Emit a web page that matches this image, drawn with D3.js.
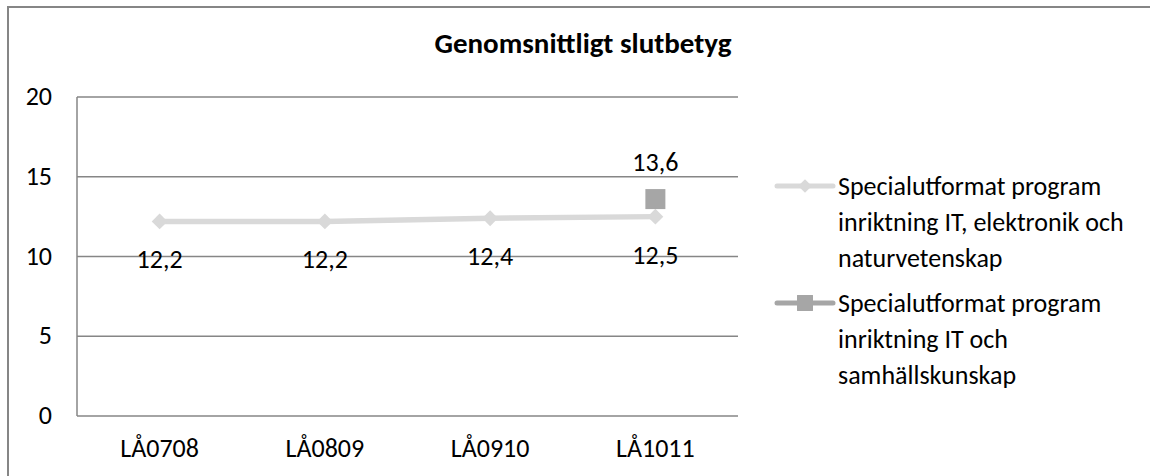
<!DOCTYPE html>
<html>
<head>
<meta charset="utf-8">
<script src="https://cdn.jsdelivr.net/npm/d3@7"></script>
<style>
  body { margin: 0; background: #fff; }
  svg { display: block; font-family: Carlito, Lato, "Open Sans", sans-serif; }
</style>
</head>
<body>
<svg width="1150" height="476"></svg>
<script>
// Chart data
var categories = ["LÅ0708", "LÅ0809", "LÅ0910", "LÅ1011"];
var seriesNames = [
  ["Specialutformat program", "inriktning IT, elektronik och", "naturvetenskap"],
  ["Specialutformat program", "inriktning IT och", "samhällskunskap"]
];
var itElektronik = [12.2, 12.2, 12.4, 12.5];
var itSamhalle = [null, null, null, 13.6];
var yTicks = [0, 5, 10, 15, 20];

var svg = d3.select("svg");

// outer chart border (runs off the page at right/bottom)
svg.append("rect")
    .attr("x", 8).attr("y", 7)
    .attr("width", 1160).attr("height", 480)
    .attr("fill", "none")
    .attr("stroke", "#868686")
    .attr("stroke-width", 2);

svg.append("text")
    .attr("x", 583).attr("y", 53)
    .attr("text-anchor", "middle")
    .style("font-size", "29px")
    .style("font-weight", "bold")
    .text("Genomsnittligt slutbetyg");

var x = d3.scaleBand().domain(categories).range([77, 738]);
var y = d3.scaleLinear().domain([0, 20]).range([416, 97]);

// gridlines
svg.append("g").selectAll("line")
  .data(yTicks)
  .enter().append("line")
    .attr("x1", 77).attr("x2", 738)
    .attr("y1", function(d) { return y(d); })
    .attr("y2", function(d) { return y(d); })
    .attr("stroke", "#868686")
    .attr("stroke-width", 1.5);

svg.append("line")
    .attr("x1", 77).attr("x2", 77)
    .attr("y1", y(0)).attr("y2", y(20))
    .attr("stroke", "#868686")
    .attr("stroke-width", 1.5);

// y tick labels
svg.append("g").selectAll("text")
  .data(yTicks)
  .enter().append("text")
    .attr("x", 52)
    .attr("y", function(d) { return y(d) + 8; })
    .attr("text-anchor", "end")
    .style("font-size", "26px")
    .text(function(d) { return d; });

// x labels
svg.append("g").selectAll("text")
  .data(categories)
  .enter().append("text")
    .attr("x", function(d) { return x(d) + x.bandwidth() / 2; })
    .attr("y", 457)
    .attr("text-anchor", "middle")
    .style("font-size", "26px")
    .text(function(d) { return d; });

var cx = function(d, i) { return x(categories[i]) + x.bandwidth() / 2; };
var fmt = function(v) { return String(v).replace(".", ","); };

// series 1: line + diamonds
var pts1 = itElektronik.map(function(v, i) { return [cx(null, i), y(v)]; });
svg.append("path")
    .attr("d", d3.line()(pts1))
    .attr("fill", "none")
    .attr("stroke", "#d9d9d9")
    .attr("stroke-width", 5.5);

svg.append("g").selectAll("path")
  .data(itElektronik)
  .enter().append("path")
    .attr("d", d3.symbol().type(d3.symbolDiamond2).size(160))
    .attr("transform", function(d, i) { return "translate(" + cx(d, i) + "," + y(d) + ")"; })
    .attr("fill", "#d9d9d9");

svg.append("g").selectAll("text")
  .data(itElektronik)
  .enter().append("text")
    .attr("x", cx)
    .attr("y", function(d) { return y(d) + 47; })
    .attr("text-anchor", "middle")
    .style("font-size", "26px")
    .text(fmt);

// series 2: single square
var s2 = itSamhalle.map(function(v, i) { return { v: v, i: i }; })
  .filter(function(d) { return d.v != null; });

svg.append("g").selectAll("rect")
  .data(s2)
  .enter().append("rect")
    .attr("x", function(d) { return cx(d, d.i) - 10; })
    .attr("y", function(d) { return y(d.v) - 10; })
    .attr("width", 20).attr("height", 20)
    .attr("fill", "#a6a6a6");

svg.append("g").selectAll("text")
  .data(s2)
  .enter().append("text")
    .attr("x", function(d) { return cx(d, d.i); })
    .attr("y", function(d) { return y(d.v) - 28; })
    .attr("text-anchor", "middle")
    .style("font-size", "26px")
    .text(function(d) { return fmt(d.v); });

// legend
var legendY = [186, 303];
var legend = svg.append("g").selectAll("g")
  .data(seriesNames)
  .enter().append("g")
    .attr("transform", function(d, i) { return "translate(0," + legendY[i] + ")"; });

legend.append("line")
    .attr("x1", 777).attr("x2", 833)
    .attr("y1", 0).attr("y2", 0)
    .attr("stroke", function(d, i) { return i == 0 ? "#d9d9d9" : "#a6a6a6"; })
    .attr("stroke-width", 5)
    .attr("stroke-linecap", "round");

legend.append("path")
    .attr("d", function(d, i) {
      return i == 0 ? d3.symbol().type(d3.symbolDiamond2).size(115)()
                    : d3.symbol().type(d3.symbolSquare2).size(324)();
    })
    .attr("transform", "translate(805,0)")
    .attr("fill", function(d, i) { return i == 0 ? "#d9d9d9" : "#a6a6a6"; });

legend.append("text")
    .attr("x", 838)
    .attr("y", 9)
    .style("font-size", "26px")
  .selectAll("tspan")
  .data(function(d) { return d; })
  .enter().append("tspan")
    .attr("x", 838)
    .attr("dy", function(d, i) { return i == 0 ? 0 : 36; })
    .text(function(d) { return d; });
</script>
</body>
</html>
